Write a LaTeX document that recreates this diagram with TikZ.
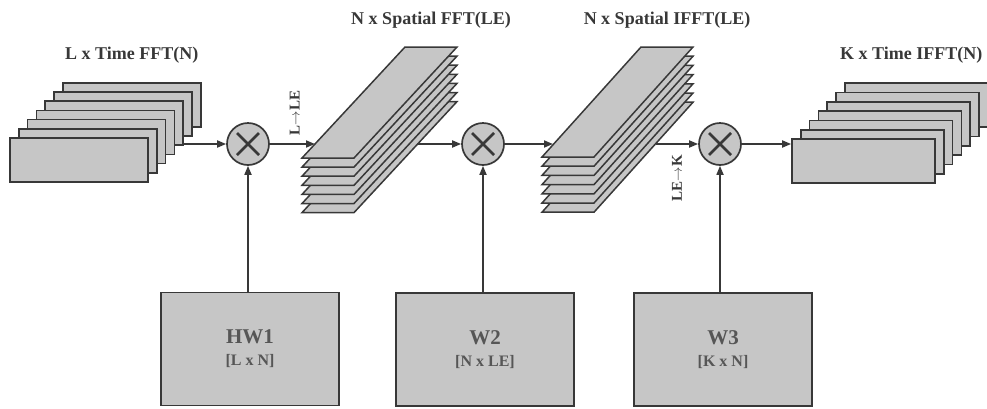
\documentclass[tikz,border=0pt]{standalone}
\usepackage{fontspec}
\setmainfont{Liberation Serif}
\usetikzlibrary{arrows.meta,positioning}

\definecolor{ink}{HTML}{383838}
\definecolor{dotgray}{HTML}{C6C6C6}
\tikzset{
  sheet/.style={draw=ink,fill=dotgray,line width=1.7pt,inner sep=0pt},
  slab/.style={draw=ink,fill=dotgray,line width=1.5pt},
  mult/.style={circle,draw=ink,fill=dotgray,line width=1.7pt,minimum size=42pt,inner sep=0pt},
  wbox/.style={draw=ink,fill=dotgray,line width=1.7pt,minimum width=178pt,minimum height=113pt,
    align=center,text=ink!85,font=\bfseries\fontsize{21}{24}\selectfont},
  flow/.style={->,draw=ink,line width=1.7pt},
  title/.style={font=\bfseries\fontsize{18}{20}\selectfont,text=ink},
  tag/.style={font=\bfseries\fontsize{15}{16}\selectfont,text=ink,rotate=90,inner sep=0pt}
}

\begin{document}
\begin{tikzpicture}[x=1pt,y=-1pt,>={Triangle[length=9pt,width=7pt]},line join=miter]
\useasboundingbox (0,0) rectangle (987,408);

% time FFT stack
\foreach \k in {6,...,0}
  \node[sheet,minimum width=138pt,minimum height=44pt] (a\k) at (79+8.8*\k,160-9.2*\k) {};
\node[title,above=15pt of a6] (t1) {L x Time FFT(N)};

% spatial FFT stack
\foreach \k in {6,...,0}
  \draw[slab] (302,158+9.1*\k) -- ++(52,0) -- ++(103,-111) -- ++(-52,0) -- cycle;
\coordinate (s2top) at (431,47);
\coordinate (s2in) at (315,144);
\coordinate (s2out) at (417,144);
\node[title,above=15pt] (t2) at (s2top) {N x Spatial FFT(LE)};

% spatial IFFT stack
\foreach \k in {6,...,0}
  \draw[slab] (542,157+9.2*\k) -- ++(52,0) -- ++(99,-110) -- ++(-52,0) -- cycle;
\coordinate (s3top) at (667,47);
\coordinate (s3in) at (553,144);
\coordinate (s3out) at (656,144);
\node[title,above=15pt] (t3) at (s3top) {N x Spatial IFFT(LE)};

% time IFFT stack
\foreach \k in {6,...,0}
  \node[sheet,minimum width=143pt,minimum height=44pt] (b\k) at (863.5+8.8*\k,161-9.3*\k) {};
\node[title,above=15pt of b6,xshift=-5pt] (t4) {K x Time IFFT(N)};

% multipliers
\node[mult] (m1) at (248,144) {};
\node[mult] (m2) at (483,144) {};
\node[mult] (m3) at (720,144) {};
\foreach \m in {m1,m2,m3}
  \draw[ink,line width=2.6pt] (\m) ++(-11,-11) -- ++(22,22) (\m) ++(11,-11) -- ++(-22,22);

% weight matrices
\node[wbox] (w1) at (250,349) {HW1\\[-2pt]{\fontsize{16}{18}\selectfont [L x N]}};
\node[wbox] (w2) at (485,349.5) {W2\\[-2pt]{\fontsize{16}{18}\selectfont [N x LE]}};
\node[wbox] (w3) at (723,349.5) {W3\\[-2pt]{\fontsize{16}{18}\selectfont [K x N]}};

% signal path
\draw[flow] (a4.east |- m1) -- (m1);
\draw[flow] (m1) -- (s2in) node[tag,pos=0.55,anchor=west,outer sep=9pt] {L$\rightarrow$LE};
\draw[flow] (s2out) -- (m2);
\draw[flow] (m2) -- (s3in);
\draw[flow] (s3out) -- (m3) node[tag,pos=0.5,anchor=east,outer sep=11pt] {LE$\rightarrow$K};
\draw[flow] (m3) -- (b0.west |- m3);
\draw[flow] (w1.north -| m1) -- (m1);
\draw[flow] (w2.north -| m2) -- (m2);
\draw[flow] (w3.north -| m3) -- (m3);
\end{tikzpicture}
\end{document}
